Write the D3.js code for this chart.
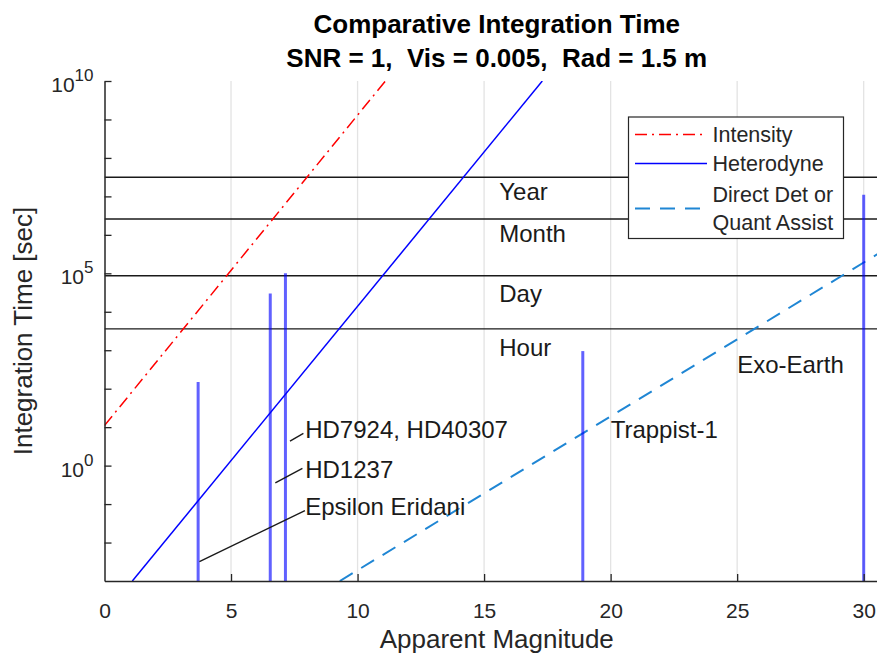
<!DOCTYPE html>
<html>
<head>
<meta charset="utf-8">
<script src="https://cdn.jsdelivr.net/npm/d3@7"></script>
<style>
  body { margin: 0; background: #fff; }
  svg { display: block; font-family: "Liberation Sans", Arial, Helvetica, sans-serif; }
  .pre { white-space: pre; }
</style>
</head>
<body>
<div id="chart"></div>
<script>
// (magnitude vs seconds)
const intensityMag = [0, 11.1];
const intensityTime = [11, 1e10];
const heterodyneMag = [1.1, 17.3];
const heterodyneTime = [1e-3, 1e10];
const directMag = [9.3, 31];
const directTime = [1e-3, 4.8e5];

const starNames = ['Epsilon Eridani', 'HD1237', 'HD7924, HD40307', 'Trappist-1', 'Exo-Earth'];
const starMag = [3.7, 6.55, 7.15, 18.9, 30];
const starTime = [150, 3e4, 1e5, 950, 1.1e7];

// leader lines + label anchors for the star names
const leaderFromMag = [3.75, 6.75, 7.33, null, null];
const leaderFromTime = [3.2e-3, 0.357, 4.33, null, null];
const leaderToMag = [7.92, 7.82, 7.86, null, null];
const leaderToTime = [0.068, 0.845, 6.86, null, null];
const labelMag = [7.93, 7.93, 7.93, 20.0, 25.0];
const labelTime = [0.086, 0.81, 8.6, 8.6, 420];

const timeNames = ['Hour', 'Day', 'Month', 'Year'];
const timeSec = [3600, 86400, 2592000, 31536000];
const timeLabelMag = 15.6;
const timeLabelSec = [1.16e3, 2.9e4, 1.06e6, 1.35e7];

const xTicks = [0, 5, 10, 15, 20, 25, 30];
const yDecades = d3.range(-3, 11);
const yLabelled = [0, 5, 10];

const legendNames = [['Intensity'], ['Heterodyne'], ['Direct Det or', 'Quant Assist']];

const W = 877, H = 656;
const margin = { top: 81, left: 104.5, right: 889, bottom: 581 };
const axisColor = '#262626';

const x = d3.scaleLinear().domain([0, 31]).range([margin.left, margin.right]);
const y = d3.scaleLog().domain([1e-3, 1e10]).range([margin.bottom, margin.top]);

const svg = d3.select('#chart').append('svg')
  .attr('width', W)
  .attr('height', H);

svg.append('clipPath').attr('id', 'plot')
  .append('rect')
  .attr('x', margin.left).attr('y', margin.top)
  .attr('width', margin.right - margin.left)
  .attr('height', margin.bottom - margin.top);

// vertical grid
svg.append('g')
  .selectAll('line')
  .data(xTicks.filter(d => d > 0))
  .join('line')
  .attr('x1', d => x(d)).attr('x2', d => x(d))
  .attr('y1', margin.top).attr('y2', margin.bottom)
  .attr('stroke', '#e3e3e3')
  .attr('stroke-width', 1.3);

const plot = svg.append('g').attr('clip-path', 'url(#plot)');

// hour / day / month / year lines
plot.append('g')
  .selectAll('line')
  .data(timeSec)
  .join('line')
  .attr('x1', margin.left).attr('x2', margin.right)
  .attr('y1', d => y(d)).attr('y2', d => y(d))
  .attr('stroke', '#1a1a1a')
  .attr('stroke-width', 1.4);

svg.append('g')
  .selectAll('text')
  .data(timeNames)
  .join('text')
  .attr('x', x(timeLabelMag))
  .attr('y', (d, i) => y(timeLabelSec[i]))
  .attr('dy', '0.35em')
  .attr('font-size', 24)
  .attr('fill', '#1a1a1a')
  .text(d => d);

const line = d3.line().x(d => x(d[0])).y(d => y(d[1]));
const series = [
  { mag: intensityMag, time: intensityTime, color: '#ff0000', dash: '12,5,2,5', width: 1.5 },
  { mag: heterodyneMag, time: heterodyneTime, color: '#0000ff', dash: null, width: 1.5 },
  { mag: directMag, time: directTime, color: '#1f86d4', dash: '15,10', width: 2 },
];

plot.append('g')
  .selectAll('path')
  .data(series)
  .join('path')
  .attr('d', s => line(s.mag.map((m, i) => [m, s.time[i]])))
  .attr('fill', 'none')
  .attr('stroke', s => s.color)
  .attr('stroke-width', s => s.width)
  .attr('stroke-dasharray', s => s.dash);

// star magnitudes
plot.append('g')
  .selectAll('line')
  .data(starMag)
  .join('line')
  .attr('x1', d => x(d)).attr('x2', d => x(d))
  .attr('y1', y(1e-3))
  .attr('y2', (d, i) => y(starTime[i]))
  .attr('stroke', '#0000ff')
  .attr('stroke-opacity', 0.62)
  .attr('stroke-width', 3);

// leader lines
plot.append('g')
  .selectAll('line')
  .data(leaderFromMag.map((m, i) => i).filter(i => leaderFromMag[i] !== null))
  .join('line')
  .attr('x1', i => x(leaderFromMag[i])).attr('y1', i => y(leaderFromTime[i]))
  .attr('x2', i => x(leaderToMag[i])).attr('y2', i => y(leaderToTime[i]))
  .attr('stroke', '#1a1a1a')
  .attr('stroke-width', 1.4);

svg.append('g')
  .selectAll('text')
  .data(starNames)
  .join('text')
  .attr('x', (d, i) => x(labelMag[i]))
  .attr('y', (d, i) => y(labelTime[i]))
  .attr('dy', '0.35em')
  .attr('font-size', 24)
  .attr('fill', '#1a1a1a')
  .text(d => d);

// axes
const xAxis = svg.append('g')
  .attr('transform', `translate(0,${margin.bottom})`)
  .call(d3.axisBottom(x).tickValues(xTicks).tickSize(-7).tickSizeOuter(0).tickPadding(22));
xAxis.select('.domain').attr('stroke', axisColor).attr('stroke-width', 1.5);
xAxis.selectAll('.tick line').attr('stroke', axisColor).attr('stroke-width', 1.3);
xAxis.selectAll('.tick text')
  .attr('font-size', 21)
  .attr('font-family', null)
  .attr('fill', axisColor);
xAxis.select('.tick:first-of-type line').remove();

const yAxis = svg.append('g')
  .attr('transform', `translate(${margin.left},0)`)
  .call(d3.axisLeft(y).tickValues(yDecades.map(e => Math.pow(10, e))).tickSize(-7).tickSizeOuter(0).tickFormat(''));
yAxis.select('.domain').attr('stroke', axisColor).attr('stroke-width', 1.5);
yAxis.selectAll('.tick line').attr('stroke', axisColor).attr('stroke-width', 1.3);
yAxis.selectAll('.tick').filter(d => d === 1e-3).select('line').remove();

const yLab = svg.append('g').attr('fill', axisColor);
yLabelled.forEach(e => {
  const t = yLab.append('text')
    .attr('x', margin.left - 11)
    .attr('y', y(Math.pow(10, e)) + 11)
    .attr('text-anchor', 'end')
    .attr('font-size', 21);
  t.append('tspan').text('10');
  t.append('tspan').attr('dy', -11).attr('font-size', 17).text(String(e));
});

// axis titles
svg.append('text')
  .attr('x', (margin.left + margin.right) / 2)
  .attr('y', 648)
  .attr('text-anchor', 'middle')
  .attr('font-size', 26)
  .attr('fill', axisColor)
  .text('Apparent Magnitude');

svg.append('text')
  .attr('transform', `translate(32,${(margin.top + margin.bottom) / 2}) rotate(-90)`)
  .attr('text-anchor', 'middle')
  .attr('font-size', 26)
  .attr('fill', axisColor)
  .text('Integration Time [sec]');

svg.append('text')
  .attr('x', (margin.left + margin.right) / 2)
  .attr('y', 33)
  .attr('text-anchor', 'middle')
  .attr('font-size', 26)
  .attr('font-weight', 'bold')
  .text('Comparative Integration Time');

svg.append('text')
  .attr('class', 'pre')
  .attr('x', (margin.left + margin.right) / 2)
  .attr('y', 67)
  .attr('text-anchor', 'middle')
  .attr('font-size', 26)
  .attr('font-weight', 'bold')
  .text('SNR = 1,  Vis = 0.005,  Rad = 1.5 m');

// legend
const legend = svg.append('g').attr('transform', 'translate(628.5,117)');
legend.append('rect')
  .attr('width', 215).attr('height', 121.5)
  .attr('fill', '#fff')
  .attr('stroke', axisColor)
  .attr('stroke-width', 1.2);

const rowY = [17.5, 46.5, 91.5];
series.forEach((s, i) => {
  legend.append('line')
    .attr('x1', 6.5).attr('x2', 78.5)
    .attr('y1', rowY[i]).attr('y2', rowY[i])
    .attr('stroke', s.color)
    .attr('stroke-width', s.width)
    .attr('stroke-dasharray', s.dash);
  const names = legendNames[i];
  names.forEach((n, j) => {
    legend.append('text')
      .attr('x', 84)
      .attr('y', rowY[i] + (j - (names.length - 1) / 2) * 28)
      .attr('dy', '0.35em')
      .attr('font-size', 21.5)
      .attr('fill', axisColor)
      .text(n);
  });
});
</script>
</body>
</html>
